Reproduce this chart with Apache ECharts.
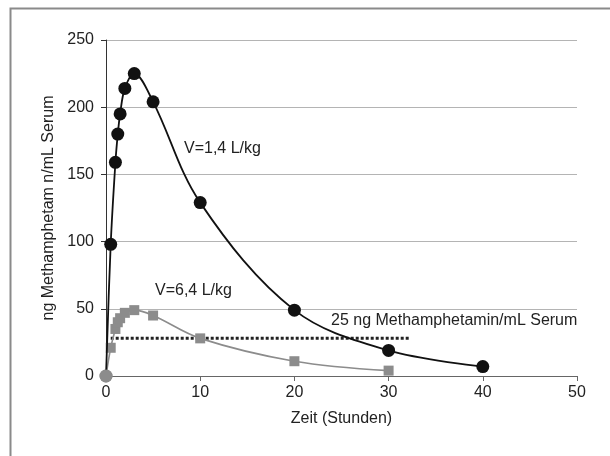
<!DOCTYPE html>
<html>
<head>
<meta charset="utf-8">
<script src="https://cdn.jsdelivr.net/npm/echarts@6/dist/echarts.min.js"></script>
<style>
html,body{margin:0;padding:0;background:#fff;}
#chart{width:610px;height:456px;}
</style>
</head>
<body>
<div id="chart"></div>
<script>
// Data
const timeHigh = [0, 0.5, 1, 1.25, 1.5, 2, 3, 5, 10, 20, 30, 40];
const concHigh = [0, 98, 159, 180, 195, 214, 225, 204, 129, 49, 19, 7];
const timeLow = [0, 0.5, 1, 1.25, 1.5, 2, 3, 5, 10, 20, 30];
const concLow = [0, 21, 35, 40, 43, 47, 49, 45, 28, 11, 4];
const thresholdX = [0.5, 32.3];
const thresholdY = [28, 28];
const xTicks = [0, 10, 20, 30, 40, 50];
const yTicks = [0, 50, 100, 150, 200, 250];
const labelHigh = 'V=1,4 L/kg';
const labelLow = 'V=6,4 L/kg';
const labelThreshold = '25 ng Methamphetamin/mL Serum';

const font = 'Liberation Sans, Arial, sans-serif';
const fs = 16;
const chart = echarts.init(document.getElementById('chart'));

const highData = timeHigh.map((t, i) => (i === 0
  ? { value: [t, concHigh[i]], itemStyle: { color: '#8c8c8c' } }
  : [t, concHigh[i]]));
const lowData = timeLow.map((t, i) => (i === 0
  ? { value: [t, concLow[i]], symbol: 'circle', symbolSize: 13 }
  : [t, concLow[i]]));
const thrData = thresholdX.map((t, i) => [t, thresholdY[i]]);

chart.setOption({
  animation: false,
  backgroundColor: '#fff',
  grid: { left: 106, right: 33, top: 40, bottom: 80, containLabel: false },
  xAxis: {
    type: 'value', min: xTicks[0], max: xTicks[xTicks.length - 1], interval: 10,
    name: 'Zeit (Stunden)', nameLocation: 'middle', nameGap: 35,
    nameTextStyle: { color: '#222', fontSize: fs, fontFamily: font },
    axisLine: { show: true, onZero: false, lineStyle: { color: '#666', width: 1 } },
    axisTick: { show: true, inside: false, length: 5, lineStyle: { color: '#666' } },
    axisLabel: { color: '#222', fontSize: fs, fontFamily: font, margin: 9 },
    splitLine: { show: false }
  },
  yAxis: {
    type: 'value', min: yTicks[0], max: yTicks[yTicks.length - 1], interval: 50,
    name: 'ng Methamphetam n/mL Serum', nameLocation: 'middle', nameGap: 48,
    nameTextStyle: { color: '#222', fontSize: fs, fontFamily: font },
    axisLine: { show: true, lineStyle: { color: '#333', width: 1 } },
    axisTick: { show: true, inside: false, length: 5, lineStyle: { color: '#333' } },
    axisLabel: { color: '#222', fontSize: fs, fontFamily: font, margin: 12 },
    splitLine: { show: true, lineStyle: { color: '#b4b4b4', width: 1 } }
  },
  series: [
    {
      type: 'line', data: thrData, symbol: 'none', z: 1,
      lineStyle: { color: '#222', width: 3, type: [3, 2] }
    },
    {
      type: 'line', data: lowData, smooth: 0.35,
      symbol: 'rect', symbolSize: 10, z: 2,
      itemStyle: { color: '#8c8c8c' },
      lineStyle: { color: '#8c8c8c', width: 1.6 }
    },
    {
      type: 'line', data: highData, smooth: 0.35,
      symbol: 'circle', symbolSize: 13, z: 3,
      itemStyle: { color: '#111' },
      lineStyle: { color: '#111', width: 1.8 }
    }
  ],
  graphic: [
    { type: 'rect', left: 8, top: 6, shape: { width: 640, height: 480 }, silent: true,
      style: { fill: 'none', stroke: '#8a8a8a', lineWidth: 2 } },
    { type: 'text', left: 184, top: 141, style: { text: labelHigh, fill: '#222', font: fs + 'px ' + font } },
    { type: 'text', left: 155, top: 283, style: { text: labelLow, fill: '#222', font: fs + 'px ' + font } },
    { type: 'text', left: 331, top: 313, style: { text: labelThreshold, fill: '#222', font: fs + 'px ' + font } }
  ]
});
</script>
</body>
</html>
